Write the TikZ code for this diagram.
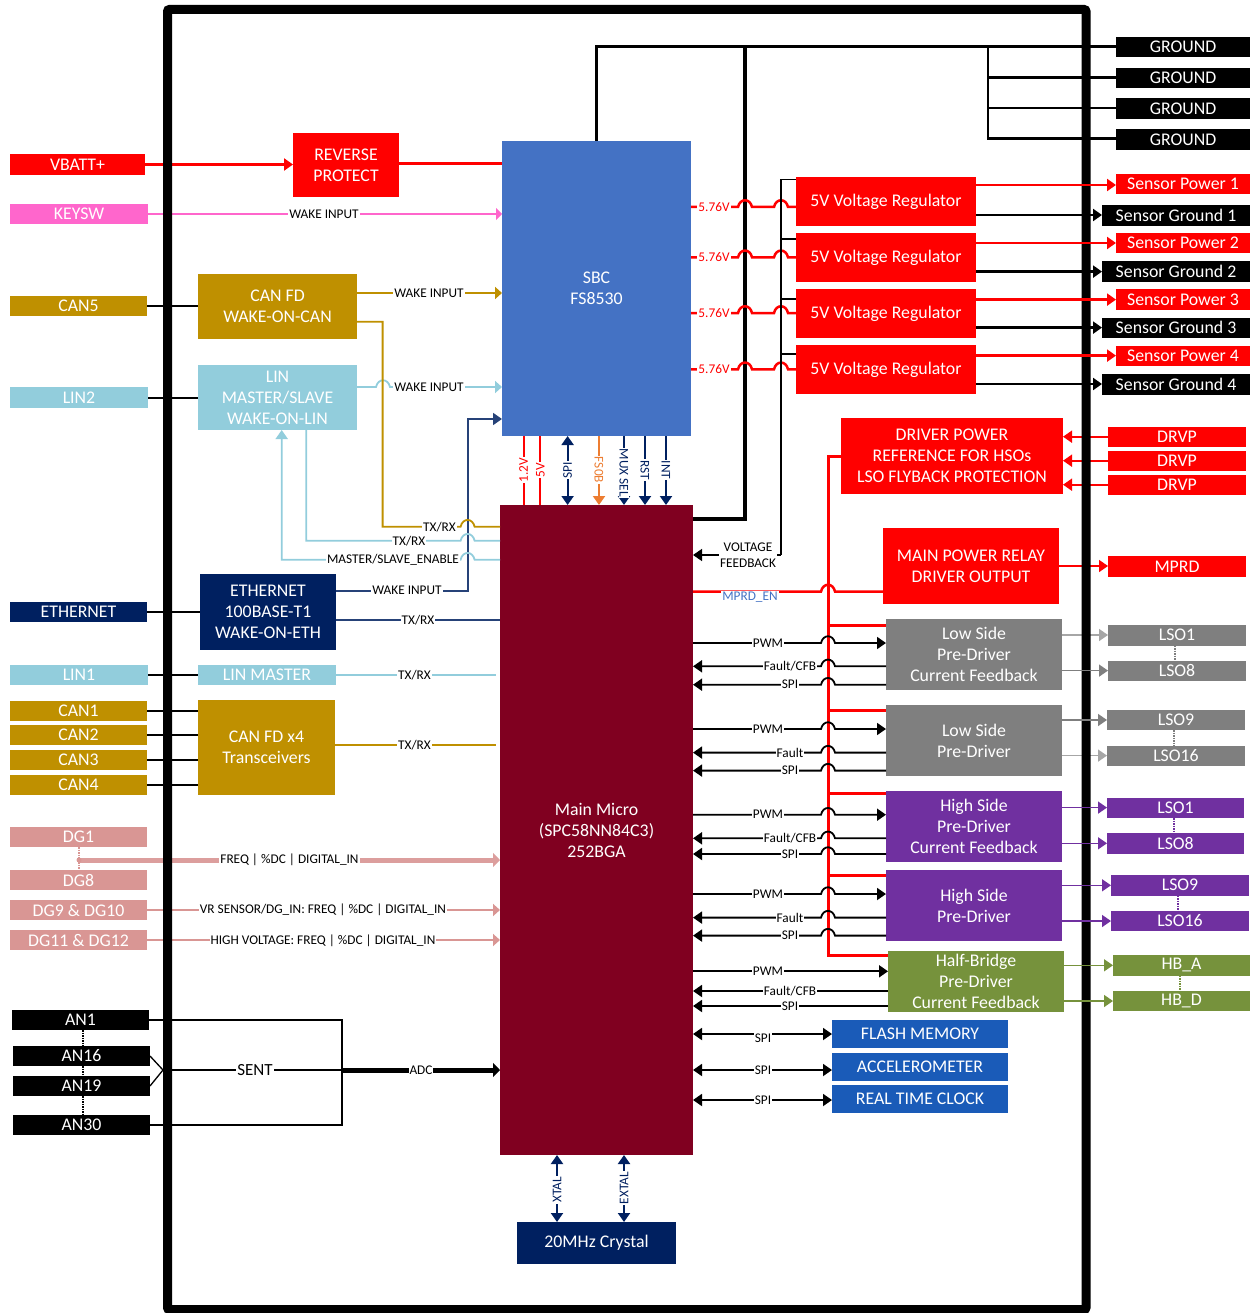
\documentclass[tikz,border=0pt]{standalone}
\usepackage{fontspec}
\setmainfont{Carlito}
\usetikzlibrary{arrows.meta}
\definecolor{cred}{HTML}{FF0000}
\definecolor{cpink}{HTML}{FF66CC}
\definecolor{cgold}{HTML}{BF9000}
\definecolor{clin}{HTML}{92CDDC}
\definecolor{cnavy}{HTML}{002060}
\definecolor{cmar}{HTML}{800020}
\definecolor{csbc}{HTML}{4472C4}
\definecolor{cgray}{HTML}{7F7F7F}
\definecolor{cpur}{HTML}{7030A0}
\definecolor{cgrn}{HTML}{76923C}
\definecolor{cdg}{HTML}{D99694}
\definecolor{cmem}{HTML}{1A5BB8}
\definecolor{corg}{HTML}{ED7D31}
\tikzset{
  boxn/.style={inner sep=0pt,outer sep=0pt,align=center,text=white,font=\fontsize{17.8}{21}\selectfont},
  lab/.style={fill=white,inner sep=1pt,font=\fontsize{13.3}{16}\selectfont,text=black,align=center},
  tip/.style={-{Triangle[length=9pt,width=12pt]}},
  ltip/.style={{Triangle[length=9pt,width=12pt]}-},
  dtip/.style={{Triangle[length=9pt,width=12pt]}-{Triangle[length=9pt,width=12pt]}},
  dots/.style={densely dotted,line width=1.5pt},
}
\newcounter{lb}
\newcommand\lab[4][black]{\stepcounter{lb}\node[lab,text=#1] (lab\thelb) at (#2,#3) {#4};}
\newcommand\rlab[5][black]{\stepcounter{lb}\node[lab,text=#1,rotate=#4] (lab\thelb) at (#2,#3) {#5};}
% name, x1, y1, x2, y2, colour, text
\newcommand\bx[7]{%
  \pgfmathsetmacro\bw{#4-#2}\pgfmathsetmacro\bh{#5-#3}%
  \pgfmathsetmacro\bcx{(#2+#4)/2}\pgfmathsetmacro\bcy{(#3+#5)/2}%
  \node[boxn,fill=#6,minimum width=\bw pt,minimum height=\bh pt] (#1) at (\bcx,\bcy) {#7};}
\newcommand\hp[2]{-- (#1-7,#2) .. controls (#1-5,#2-9) and (#1+5,#2-9) .. (#1+7,#2)}
\begin{document}
\begin{tikzpicture}[x=1pt,y=-1pt]
\useasboundingbox (0,0) rectangle (1251,1313);
% left connectors
\bx{vbatt}{10}{154}{145}{175}{cred}{VBATT+}
\bx{keysw}{10}{204}{148}{224.5}{cpink}{KEYSW}
\bx{cancin}{10}{296}{147}{316}{cgold}{CAN5}
\bx{lintwo}{10}{387}{148}{408}{clin}{LIN2}
\bx{ethc}{10}{602}{147}{622}{cnavy}{ETHERNET}
\bx{linone}{10}{664.5}{148}{685}{clin}{LIN1}
\bx{cana}{10}{701}{147}{721}{cgold}{CAN1}
\bx{canb}{10}{725}{147}{745}{cgold}{CAN2}
\bx{canc}{10}{750}{147}{770}{cgold}{CAN3}
\bx{cand}{10}{775}{147}{795}{cgold}{CAN4}
\bx{dga}{10}{827}{147}{847}{cdg}{DG1}
\bx{dgb}{10}{870}{147}{890}{cdg}{DG8}
\bx{dgc}{10}{900}{147}{920}{cdg}{DG9 \& DG10}
\bx{dgd}{10}{930}{147}{950}{cdg}{DG11 \& DG12}
\bx{ana}{12}{1010}{149}{1030}{black}{AN1}
\bx{anb}{13}{1046}{150}{1066}{black}{AN16}
\bx{anc}{13}{1076}{150}{1096}{black}{AN19}
\bx{and}{13}{1115}{150}{1135}{black}{AN30}
% inner left boxes
\bx{rev}{293}{133}{399}{197}{cred}{REVERSE\\PROTECT}
\bx{canfd}{198}{274}{357}{339}{cgold}{CAN FD\\WAKE-ON-CAN}
\bx{linms}{198}{365}{357}{430}{clin}{LIN\\MASTER/SLAVE\\WAKE-ON-LIN}
\bx{eth}{200}{574}{336}{650}{cnavy}{ETHERNET\\100BASE-T1\\WAKE-ON-ETH}
\bx{linm}{198}{664.5}{336}{685}{clin}{LIN MASTER}
\bx{canx}{198}{700}{335}{795}{cgold}{CAN FD x4\\Transceivers}
% centre
\bx{sbc}{502}{141}{691}{436}{csbc}{SBC\\FS8530}
\bx{micro}{500}{505}{693}{1155}{cmar}{Main Micro\\(SPC58NN84C3)\\252BGA}
\bx{xtal}{517}{1222}{676}{1264}{cnavy}{20MHz Crystal}
% regulators
\bx{rega}{796}{177}{976}{226}{cred}{5V Voltage Regulator}
\bx{regb}{796}{233}{976}{282}{cred}{5V Voltage Regulator}
\bx{regc}{796}{289}{976}{338}{cred}{5V Voltage Regulator}
\bx{regd}{796}{345}{976}{394}{cred}{5V Voltage Regulator}
% grounds
\bx{gnda}{1116}{37}{1250}{57}{black}{GROUND}
\bx{gndb}{1116}{68}{1250}{88}{black}{GROUND}
\bx{gndc}{1116}{98.5}{1250}{119}{black}{GROUND}
\bx{gndd}{1116}{129}{1250}{150}{black}{GROUND}
\bx{spa}{1116}{174}{1250}{194}{cred}{Sensor Power 1}
\bx{sga}{1102}{205}{1250}{226}{black}{Sensor Ground 1}
\bx{spb}{1116}{233}{1250}{253}{cred}{Sensor Power 2}
\bx{sgb}{1102}{261}{1250}{282}{black}{Sensor Ground 2}
\bx{spc}{1116}{289}{1250}{310}{cred}{Sensor Power 3}
\bx{sgc}{1102}{317.5}{1250}{338}{black}{Sensor Ground 3}
\bx{spd}{1116}{346}{1250}{366}{cred}{Sensor Power 4}
\bx{sgd}{1102}{374}{1250}{395}{black}{Sensor Ground 4}
% driver
\bx{drv}{841}{418}{1063}{494}{cred}{DRIVER POWER\\REFERENCE FOR HSOs\\LSO FLYBACK PROTECTION}
\bx{drva}{1108}{426.5}{1246}{447}{cred}{DRVP}
\bx{drvb}{1108}{450.5}{1246}{471}{cred}{DRVP}
\bx{drvc}{1108}{474.5}{1246}{495}{cred}{DRVP}
\bx{mpr}{883}{528}{1059}{604}{cred}{MAIN POWER RELAY\\DRIVER OUTPUT}
\bx{mprd}{1108}{556}{1246}{577}{cred}{MPRD}
% pre-drivers
\bx{lsa}{886}{619}{1062}{690}{cgray}{Low Side\\Pre-Driver\\Current Feedback}
\bx{lsb}{886}{705}{1062}{776}{cgray}{Low Side\\Pre-Driver}
\bx{hsa}{886}{791}{1062}{862}{cpur}{High Side\\Pre-Driver\\Current Feedback}
\bx{hsb}{886}{870}{1062}{941}{cpur}{High Side\\Pre-Driver}
\bx{hb}{888}{951}{1064}{1012}{cgrn}{Half-Bridge\\Pre-Driver\\Current Feedback}
% outputs
\bx{loa}{1108}{625}{1246}{645.5}{cgray}{LSO1}
\bx{lob}{1108}{660.5}{1246}{681}{cgray}{LSO8}
\bx{loc}{1107}{710}{1245}{730}{cgray}{LSO9}
\bx{lod}{1107}{745.5}{1245}{766}{cgray}{LSO16}
\bx{poa}{1107}{797.5}{1244}{818}{cpur}{LSO1}
\bx{pob}{1107}{833}{1244}{854}{cpur}{LSO8}
\bx{poc}{1111}{875}{1249}{895.5}{cpur}{LSO9}
\bx{pod}{1111}{911}{1249}{931}{cpur}{LSO16}
\bx{hba}{1113}{955}{1250}{975.5}{cgrn}{HB\_A}
\bx{hbd}{1113}{991}{1250}{1011}{cgrn}{HB\_D}
% memories
\bx{flash}{832}{1020}{1008}{1048}{cmem}{FLASH MEMORY}
\bx{accel}{832}{1053}{1008}{1081}{cmem}{ACCELEROMETER}
\bx{rtc}{832}{1085}{1008}{1113}{cmem}{REAL TIME CLOCK}
\coordinate (an) at (163,1070);
\coordinate (sent) at (342,1070);
\coordinate (dgj) at (79,860);
\coordinate (trunk) at (828,456.5);

% ----- lines passing under the frame -----
\draw[cred,line width=3pt,tip] (vbatt.east |- 0,164.5) -- (rev.west |- 0,164.5);
\draw[cred,line width=3pt] (rev.east |- 0,164) -- (sbc.west |- 0,164);
\draw[cpink,line width=1.8pt,-{Triangle[length=6pt,width=12pt]}] (keysw.east |- 0,214) -- (sbc.west |- 0,214);
\foreach \a/\b/\y in {cancin/canfd/306,lintwo/linms/398,ethc/eth/612,linone/linm/675,cana/canx/711,canb/canx/735,canc/canx/760,cand/canx/785}
  \draw[black,line width=1.6pt] (\a.east |- 0,\y) -- (\b.west |- 0,\y);
\draw[cdg!92!white,line width=5pt,-{Triangle[length=7pt,width=14pt]}] (dgj) -- (micro.west |- dgj);
\fill[cdg] (dgj) circle (2.5pt);
\draw[cdg,dots] (dga.south -| dgj) -- (dgb.north -| dgj);
\draw[cdg,line width=2pt,-{Triangle[length=7pt,width=12pt]}] (dgc.east) -- (micro.west |- dgc.east);
\draw[cdg,line width=2pt,-{Triangle[length=7pt,width=12pt]}] (dgd.east) -- (micro.west |- dgd.east);
\draw[black,line width=1.3pt] (ana.east) -| (sent) |- (and.east);
\draw[black,line width=1.3pt] (anb.east |- 0,1056) -- (an) -- (anc.east |- 0,1086);
\draw[black,line width=1.3pt] (an) -- (sent);
\draw[black,line width=5pt,-{Triangle[length=7pt,width=14pt]}] (sent) -- (micro.west |- sent);
\draw[black,dots] (83,1030) -- (83,1046);
\draw[black,dots] (83,1066) -- (83,1076);
\draw[black,dots] (83,1096) -- (83,1115);
% ground
\draw[black,line width=3pt] (sbc.north |- 0,141) -- (sbc.north |- gnda.west) -- (gnda.west);
\draw[black,line width=3.5pt] (micro.east |- 0,519) -| (745,47);
\draw[black,line width=2.5pt] (988,47) -- (988,138.5) -- (gndd.west |- 0,138.5);
\draw[black,line width=2.5pt] (988,77.5) -- (gndb.west |- 0,77.5);
\draw[black,line width=2.5pt] (988,108) -- (gndc.west |- 0,108);
% sensor grounds
\foreach \r/\s/\y in {rega/sga/215,regb/sgb/271.6,regc/sgc/327.6,regd/sgd/384}
  \draw[black,line width=2.5pt,tip] (\r.east |- 0,\y) -- (\s.west |- 0,\y);
% drvp and mprd
\foreach \s/\y in {drva/436.7,drvb/460.7,drvc/484.7}
  \draw[cred,line width=1.8pt,ltip] (drv.east |- 0,\y) -- (\s.west |- 0,\y);
\draw[cred,line width=1.5pt,tip] (mpr.east |- 0,566) -- (mprd.west |- 0,566);
% light grey outputs
\draw[black!35,line width=1.5pt,tip] (lsa.east |- 0,635) -- (loa.west |- 0,635);
\draw[black!35,line width=1.5pt,tip] (lsb.east |- 0,755.6) -- (lod.west |- 0,755.6);

% ----- the frame -----
\node[draw=black,line width=9pt,rounded corners=2pt,inner sep=0pt,minimum width=918.5pt,minimum height=1300pt] (frame) at (626.75,659.5) {};

% ----- lines over the frame -----
\foreach \r/\s/\y in {rega/spa/185,regb/spb/243,regc/spc/299.6,regd/spd/355.6}
  \draw[cred,line width=2.5pt,tip] (\r.east |- 0,\y) -- (\s.west |- 0,\y);
\draw[cgray,line width=1.5pt,tip] (lsa.east |- 0,670.6) -- (lob.west |- 0,670.6);
\draw[cgray,line width=1.5pt,tip] (lsb.east |- 0,720) -- (loc.west |- 0,720);
\foreach \a/\b/\y in {hsa/poa/807.6,hsa/pob/843.3,hsb/poc/885.3,hsb/pod/921}
  \draw[cpur,line width=1.5pt,tip] (\a.east |- 0,\y) -- (\b.west |- 0,\y);
\draw[cgrn,line width=1.5pt,tip] (hb.east |- 0,965.3) -- (hba.west |- 0,965.3);
\draw[cgrn,line width=1.5pt,tip] (hb.east |- 0,1001) -- (hbd.west |- 0,1001);
\draw[cgray,dots] (loa.south -| 1175,0) -- (lob.north -| 1175,0);
\draw[cgray,dots] (loc.south -| 1174,0) -- (lod.north -| 1174,0);
\draw[cpur,dots] (poa.south -| 1174,0) -- (pob.north -| 1174,0);
\draw[cpur,dots] (poc.south -| 1178,0) -- (pod.north -| 1178,0);
\draw[cgrn,dots] (hba.south -| 1180,0) -- (hbd.north -| 1180,0);

% 5.76 V rails
\foreach \y/\r in {207/rega,257.3/regb,313/regc,369.3/regd}
  \draw[cred,line width=2.5pt] (sbc.east |- 0,\y) \hp{745}{\y} \hp{781}{\y} -- (\r.west |- 0,\y);
% voltage feedback
\draw[black,line width=1.5pt] (rega.west |- 0,179.3) -- (781,179.3) -- (781,555);
\foreach \y/\r in {239/regb,299/regc,354/regd}
  \draw[black,line width=1.5pt] (781,\y) -- (\r.west |- 0,\y);
\draw[black,line width=1.5pt,ltip] (micro.east |- 0,555) -- (781,555);
% can / lin / eth to sbc and micro
\draw[cgold,line width=2pt,-{Triangle[length=7pt,width=12pt]}] (canfd.east |- 0,293) -- (sbc.west |- 0,293);
\draw[cnavy!85!white,line width=1.8pt,tip] (eth.east |- 0,591) -- (467.6,591) -- (467.6,419) -- (sbc.west |- 0,419);
\draw[clin,line width=1.8pt,-{Triangle[length=7pt,width=12pt]}] (linms.east |- 0,387) \hp{383}{387} -- (sbc.west |- 0,387);
\draw[cgold,line width=1.8pt] (canfd.east |- 0,321.7) -- (382.6,321.7) -- (382.6,526.7) \hp{467.6}{526.7} -- (micro.west |- 0,526.7);
\draw[clin,line width=1.8pt] (306.3,430) -- (306.3,540.7) \hp{467.6}{540.7} -- (micro.west |- 0,540.7);
\draw[clin,line width=1.8pt,tip] (micro.west |- 0,559.7) -- (467.6+7,559.7) .. controls (467.6+5,559.7-9) and (467.6-5,559.7-9) .. (467.6-7,559.7) -- (281.7,559.7) -- (281.7,430);
\draw[cnavy!85!white,line width=1.8pt] (eth.east |- 0,620) -- (micro.west |- 0,620);
\draw[clin,line width=1.8pt] (linm.east |- 0,675) -- (496,675);
\draw[cgold,line width=1.8pt] (canx.east |- 0,744.7) -- (496,744.7);
% sbc to micro
\draw[cred,line width=2pt] (523.7,436) -- (523.7,505);
\draw[cred,line width=2pt] (540.3,436) -- (540.3,505);
\draw[cnavy,line width=2pt,dtip] (567.6,436) -- (567.6,505);
\draw[corg,line width=2pt,tip] (599,436) -- (599,505);
\draw[cnavy,line width=2pt,tip] (624,436) -- (624,505);
\draw[cnavy,line width=2pt,tip] (645,436) -- (645,505);
\draw[cnavy,line width=2pt,tip] (666,436) -- (666,505);
% crystal
\draw[cnavy,line width=2pt,dtip] (557,1155) -- (557,1222);
\draw[cnavy,line width=2pt,dtip] (624,1155) -- (624,1222);
% red trunk
\draw[cred,line width=3pt] (drv.west |- trunk) -- (trunk) -- (828,955) -- (hb.west |- 0,955);
\foreach \y/\r in {625.3/lsa,710.3/lsb,793.6/hsa,875.6/hsb}
  \draw[cred,line width=3pt] (828,\y) -- (\r.west |- 0,\y);
\draw[cred,line width=2.5pt] (micro.east |- 0,591.5) \hp{828}{591.5} -- (mpr.west |- 0,591.5);
% control lines with hops
\foreach \y/\r in {643/lsa,729/lsb,814.7/hsa,894/hsb}
  \draw[black,line width=1.8pt,tip] (micro.east |- 0,\y) \hp{828}{\y} -- (\r.west |- 0,\y);
\foreach \y/\r in {666.3/lsa,684.7/lsa,752.6/lsb,770.6/lsb,838.3/hsa,854/hsa,917.6/hsb,935.6/hsb}
  \draw[black,line width=1.8pt,tip] (\r.west |- 0,\y) -- (828+7,\y) .. controls (828+5,\y-9) and (828-5,\y-9) .. (828-7,\y) -- (micro.east |- 0,\y);
\draw[black,line width=1.8pt,tip] (micro.east |- 0,971.3) -- (hb.west |- 0,971.3);
\draw[black,line width=1.8pt,ltip] (micro.east |- 0,991) -- (hb.west |- 0,991);
\draw[black,line width=1.8pt,ltip] (micro.east |- 0,1006) -- (hb.west |- 0,1006);
\draw[black,line width=1.8pt,dtip] (micro.east |- flash.west) -- (flash.west);
\draw[black,line width=1.8pt,dtip] (micro.east |- 0,1070) -- (accel.west |- 0,1070);
\draw[black,line width=1.8pt,dtip] (micro.east |- 0,1100) -- (rtc.west |- 0,1100);

% ----- labels -----
\lab{324}{214}{WAKE INPUT}
\lab{429}{293}{WAKE INPUT}
\lab{429}{387}{WAKE INPUT}
\lab{407}{590}{WAKE INPUT}
\lab{439.5}{526.7}{TX/RX}
\lab{409}{540.7}{TX/RX}
\lab{393}{559.7}{MASTER/SLAVE\_ENABLE}
\lab{418}{620}{TX/RX}
\lab{414.5}{675}{TX/RX}
\lab{414.5}{744.7}{TX/RX}
\lab{289.5}{860}{FREQ | \%DC | DIGITAL\_IN}
\lab{323}{910}{VR SENSOR/DG\_IN: FREQ | \%DC | DIGITAL\_IN}
\lab{323}{940.5}{HIGH VOLTAGE: FREQ | \%DC | DIGITAL\_IN}
\stepcounter{lb}\node[lab,font=\fontsize{17}{18}\selectfont] (lab\thelb) at (255,1070) {SENT};
\lab{421}{1070.5}{ADC}
\foreach \y in {207,257.3,313,369.3}{\lab[cred]{714}{\y}{5.76V}}
\lab{748}{555}{VOLTAGE\\FEEDBACK}
\lab[csbc]{750}{597}{MPRD\_EN}
\foreach \y in {643,729,814.7,894,971.3}{\lab{768}{\y}{PWM}}
\foreach \y in {666.3,838.3,991}{\lab{790}{\y}{Fault/CFB}}
\foreach \y in {752.6,917.6}{\lab{790}{\y}{Fault}}
\foreach \y in {684.7,770.6,854,935.6,1006}{\lab{790}{\y}{SPI}}
\foreach \y in {1038,1070,1100}{\lab{763}{\y}{SPI}}
\rlab[cred]{523.7}{470}{90}{1.2V}
\rlab[cred]{540.3}{470}{90}{5V}
\rlab[cnavy]{567.6}{470}{90}{SPI}
\rlab[corg]{599}{470}{-90}{FS0B}
\rlab[cnavy]{624}{473}{-90}{MUX SEL}
\rlab[cnavy]{645}{470}{-90}{RST}
\rlab[cnavy]{666}{470}{-90}{INT}
\rlab[cnavy]{557}{1190}{90}{XTAL}
\rlab[cnavy]{624}{1188}{90}{EXTAL}
\end{tikzpicture}
\end{document}
